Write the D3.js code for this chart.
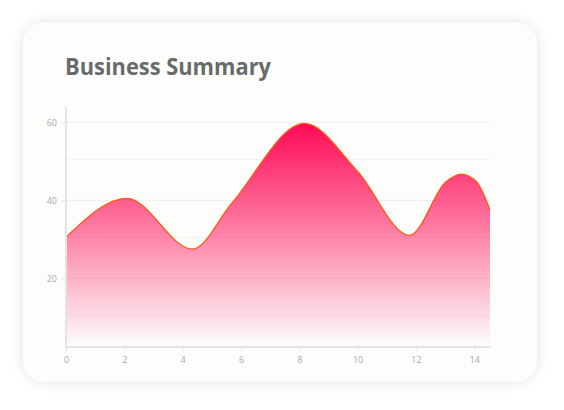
<!DOCTYPE html>
<html>
<head>
<meta charset="utf-8">
<script src="https://cdn.jsdelivr.net/npm/d3@7"></script>
<style>
  body { margin: 0; background: #ffffff; }
  svg { display: block; }
</style>
</head>
<body>
<div id="chart"></div>
<script>
// data (x position, value)
const xs = [0, 2.09, 4.34, 5.68, 8.18, 10.0, 11.78, 13.04, 13.55, 14.07, 14.54]
const values = [30.5, 40.5, 27.5, 39.2, 59.7, 47.4, 31.0, 44.8, 46.7, 44.8, 37.5]
const xTicks = [0, 2, 4, 6, 8, 10, 12, 14]
const yTicks = [20, 40, 60]
const minorGrid = [10.5, 30.5, 50.5]
const title = 'Business Summary'

const data = xs.map((x, i) => ({x: x, y: values[i]}))

const W = 564, H = 410
const PLOT = {LEFT: 66, RIGHT: 490, TOP: 107, BOTTOM: 347}

const svg = d3.select('#chart')
  .append('svg')
    .attr('width', W)
    .attr('height', H)

const defs = svg.append('defs')

// card shadow
const shadow = defs.append('filter')
  .attr('id', 'shadow')
  .attr('x', '-10%').attr('y', '-10%')
  .attr('width', '120%').attr('height', '120%')
shadow.append('feGaussianBlur')
  .attr('in', 'SourceAlpha')
  .attr('stdDeviation', 7)
shadow.append('feComponentTransfer')
  .append('feFuncA').attr('type', 'linear').attr('slope', 0.12)
const merge = shadow.append('feMerge')
merge.append('feMergeNode')
merge.append('feMergeNode').attr('in', 'SourceGraphic')

// area gradient
const grad = defs.append('linearGradient')
  .attr('id', 'areaFill')
  .attr('x1', 0).attr('y1', 0)
  .attr('x2', 0).attr('y2', 1)
grad.append('stop').attr('offset', '0%').attr('stop-color', '#ff0a55').attr('stop-opacity', 1)
grad.append('stop').attr('offset', '100%').attr('stop-color', '#ff0a55').attr('stop-opacity', 0)

// card
svg.append('rect')
  .attr('x', 23)
  .attr('y', 22)
  .attr('width', 514)
  .attr('height', 360)
  .attr('rx', 22)
  .attr('fill', '#fdfefc')
  .attr('filter', 'url(#shadow)')

// title
svg.append('text')
  .attr('x', 65)
  .attr('y', 75)
  .attr('font-family', 'Open Sans, sans-serif')
  .attr('font-weight', 700)
  .attr('font-size', 23)
  .attr('fill', '#676b6b')
  .attr('textLength', 206)
  .attr('lengthAdjust', 'spacingAndGlyphs')
  .text(title)

// scales
const x = d3.scaleLinear()
  .domain([0, 14.54])
  .range([PLOT.LEFT, PLOT.RIGHT])

const y = d3.scaleLinear()
  .domain([0, 60])
  .range([356.3, 122.3])

// grid lines
const g = svg.append('g')
g.selectAll('.minor')
  .data(minorGrid)
  .enter().append('line')
    .attr('x1', PLOT.LEFT).attr('x2', PLOT.RIGHT)
    .attr('y1', d => y(d)).attr('y2', d => y(d))
    .attr('stroke', '#f3f3f1')
    .attr('stroke-width', 1)
g.selectAll('.major')
  .data(yTicks)
  .enter().append('line')
    .attr('x1', PLOT.LEFT).attr('x2', PLOT.RIGHT)
    .attr('y1', d => y(d)).attr('y2', d => y(d))
    .attr('stroke', '#ececea')
    .attr('stroke-width', 1)

// area + line
const area = d3.area()
  .x(d => x(d.x))
  .y0(PLOT.BOTTOM)
  .y1(d => y(d.y))
  .curve(d3.curveMonotoneX)

const line = d3.line()
  .x(d => x(d.x))
  .y(d => y(d.y))
  .curve(d3.curveMonotoneX)

svg.append('path')
  .datum(data)
  .attr('d', area)
  .attr('fill', 'url(#areaFill)')

svg.append('path')
  .datum(data)
  .attr('d', line)
  .attr('fill', 'none')
  .attr('stroke', '#ff5a10')
  .attr('stroke-width', 1.3)

// axes
const xAxisCall = d3.axisBottom(x)
  .tickValues(xTicks)
  .tickSize(4)
  .tickPadding(6)
const yAxisCall = d3.axisLeft(y)
  .tickValues(yTicks)
  .tickSize(5)
  .tickPadding(4)

const xAxisGroup = svg.append('g')
  .attr('transform', `translate(0, ${PLOT.BOTTOM})`)
  .call(xAxisCall)
const yAxisGroup = svg.append('g')
  .attr('transform', `translate(${PLOT.LEFT}, 0)`)
  .call(yAxisCall)

xAxisGroup.select('.domain')
  .attr('d', `M${PLOT.LEFT},0H${PLOT.RIGHT}`)
yAxisGroup.select('.domain')
  .attr('d', `M0,${PLOT.TOP}V${PLOT.BOTTOM}`)

svg.selectAll('.domain')
  .attr('stroke', '#e4e4e2')
  .attr('stroke-width', 2)
svg.selectAll('.tick line')
  .attr('stroke', '#e4e4e2')
svg.selectAll('.tick text')
  .attr('fill', '#a8a8a8')
  .attr('font-family', 'Open Sans, sans-serif')
  .attr('font-size', 9)
</script>
</body>
</html>
